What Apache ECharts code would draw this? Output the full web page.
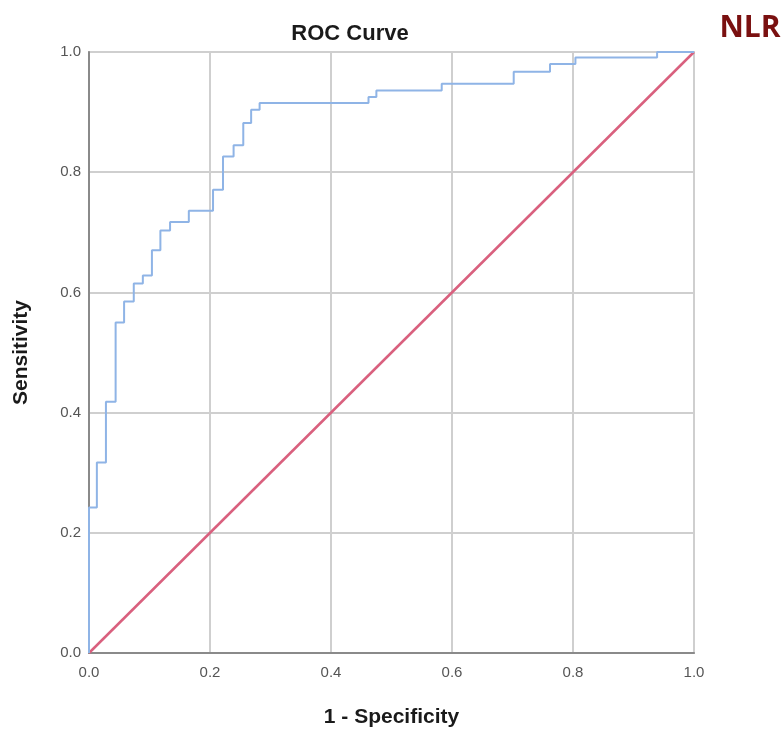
<!DOCTYPE html>
<html>
<head>
<meta charset="utf-8">
<script src="https://cdn.jsdelivr.net/npm/echarts@6/dist/echarts.min.js"></script>
<style>
html,body{margin:0;padding:0;background:#fff;}
#chart{width:781px;height:733px;}
</style>
</head>
<body>
<div id="chart"></div>
<script>
// ROC operating points (1 - Specificity, Sensitivity)
var fpr = [0, 0, 0.013, 0.028, 0.044, 0.058, 0.074, 0.089, 0.104, 0.118, 0.134, 0.165, 0.205, 0.2215, 0.239, 0.255, 0.268, 0.282, 0.462, 0.475, 0.583, 0.702, 0.762, 0.804, 0.939, 1.0];
var tpr = [0, 0.242, 0.317, 0.418, 0.550, 0.585, 0.615, 0.628, 0.670, 0.703, 0.717, 0.736, 0.771, 0.826, 0.845, 0.882, 0.904, 0.915, 0.925, 0.936, 0.947, 0.967, 0.980, 0.991, 1.0, 1.0];
// reference line
var refX = [0, 1];
var refY = [0, 1];
var tickLabels = ['0.0', '0.2', '0.4', '0.6', '0.8', '1.0'];

var rocData = [];
for (var i = 0; i < fpr.length; i++) {
  if (i > 0) rocData.push([fpr[i], tpr[i - 1]]);
  rocData.push([fpr[i], tpr[i]]);
}
var refData = refX.map(function (x, i) { return [x, refY[i]]; });

var chart = echarts.init(document.getElementById('chart'), null, {renderer: 'canvas'});
var fmt = function (v) { return tickLabels[Math.round(v * 5)]; };
chart.setOption({
  backgroundColor: '#ffffff',
  animation: false,
  title: [
    {text: 'ROC Curve', left: 345, top: 18, textAlign: 'center',
     textStyle: {fontFamily: 'Liberation Sans', fontWeight: 'bold', fontSize: 22, color: '#1a1a1a'}},
    {text: 'NLR', left: 745, top: 8, textAlign: 'center',
     textStyle: {fontFamily: 'Open Sans', fontWeight: 'bold', fontSize: 30, color: '#7a1010'}}
  ],
  grid: {left: 89, right: 87, top: 52, bottom: 76, show: true, borderColor: '#cfcfcf', borderWidth: 2},
  xAxis: {
    type: 'value', min: 0, max: 1, interval: 0.2,
    name: '1 - Specificity', nameLocation: 'middle', nameGap: 54,
    nameTextStyle: {fontFamily: 'Liberation Sans', fontWeight: 'bold', fontSize: 21, color: '#1a1a1a'},
    axisLine: {show: true, lineStyle: {color: '#8a8a8a', width: 2}},
    axisTick: {show: false},
    axisLabel: {formatter: fmt, fontFamily: 'Liberation Sans', fontSize: 15, color: '#555', margin: 12},
    splitLine: {show: true, lineStyle: {color: '#cfcfcf', width: 2}}
  },
  yAxis: {
    type: 'value', min: 0, max: 1, interval: 0.2,
    name: 'Sensitivity', nameLocation: 'middle', nameGap: 57, nameRotate: 90,
    nameTextStyle: {fontFamily: 'Liberation Sans', fontWeight: 'bold', fontSize: 21, color: '#1a1a1a'},
    axisLine: {show: true, lineStyle: {color: '#8a8a8a', width: 2}},
    axisTick: {show: false},
    axisLabel: {formatter: fmt, fontFamily: 'Liberation Sans', fontSize: 15, color: '#555', margin: 8},
    splitLine: {show: true, lineStyle: {color: '#cfcfcf', width: 2}}
  },
  series: [
    {type: 'line', data: refData, showSymbol: false, symbol: 'none',
     lineStyle: {color: '#d9607e', width: 2.5}, z: 3},
    {type: 'line', data: rocData, showSymbol: false, symbol: 'none',
     lineStyle: {color: '#8fb4e6', width: 2}, z: 4}
  ]
});
</script>
</body>
</html>
